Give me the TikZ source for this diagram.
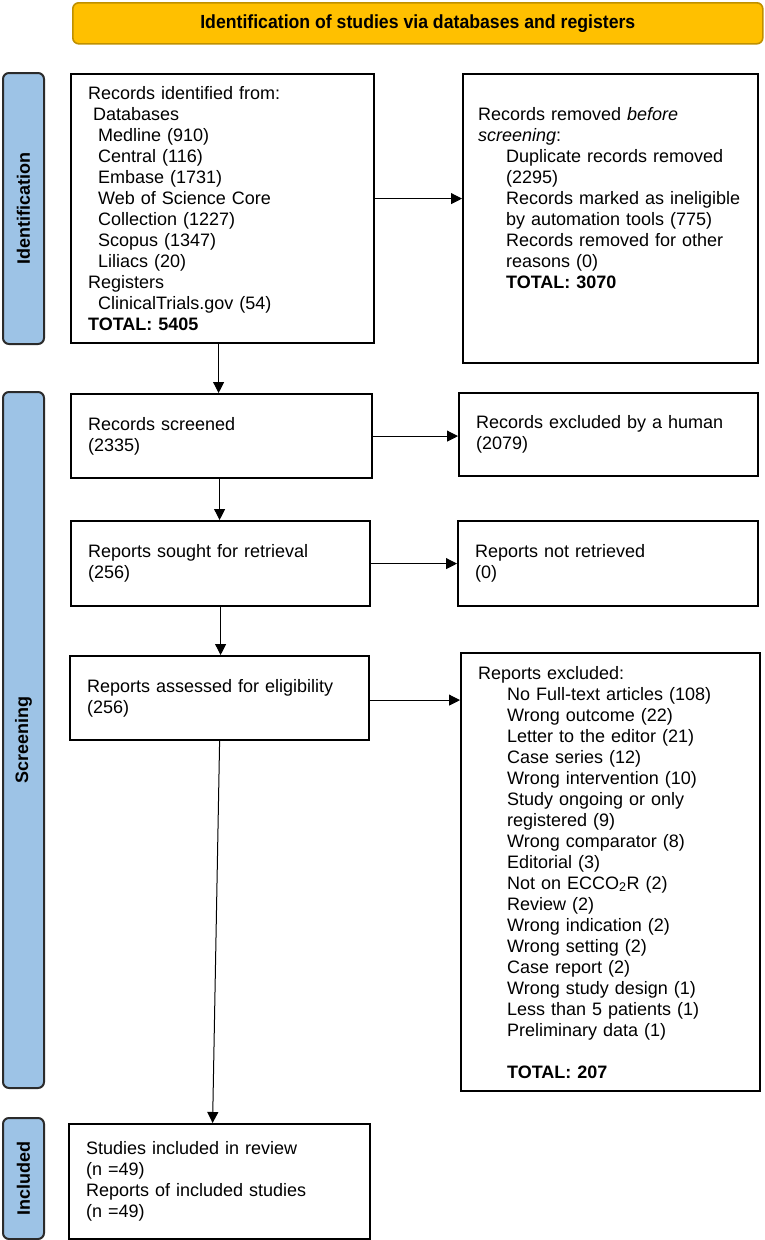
\documentclass[tikz,border=0pt]{standalone}
\usepackage{fontspec}
\usepackage{graphicx}
\setmainfont{Liberation Sans}
\usetikzlibrary{arrows.meta,calc}
\definecolor{hdrfill}{HTML}{FFC000}
\definecolor{hdrdraw}{HTML}{BF9000}
\definecolor{sidefill}{HTML}{9DC3E6}
\definecolor{sidedraw}{HTML}{2B2B2B}
\tikzset{
  txt/.style={font=\fontsize{18}{21}\selectfont},
  flowbox/.style={txt, draw=black, line width=2.2pt, fill=white, rectangle,
    anchor=north west, inner xsep=17pt, inner ysep=0pt, align=left,
    execute at begin node={\hyphenpenalty=10000\exhyphenpenalty=10000}},
  sidebar/.style={draw=sidedraw, line width=2pt, fill=sidefill, rounded corners=6pt,
    anchor=north west, inner sep=0pt, minimum width=41pt},
  sidetext/.style={rotate=90, font=\fontsize{18}{21}\selectfont\bfseries},
  arr/.style={line width=1pt, -{Triangle[length=11pt,width=11pt]}}
}
\newcommand{\ind}[1]{\hspace*{#1pt}}
\begin{document}
\begin{tikzpicture}[x=1pt,y=-1pt]
\useasboundingbox (0,0) rectangle (764,1240);
% header
\node (hdr) [draw=hdrdraw, line width=1.6pt, fill=hdrfill, rounded corners=6pt,
  anchor=north west, minimum width=690pt, minimum height=41pt, inner sep=0pt]
  at (72,2) {\scalebox{0.93}[1]{\fontsize{19}{22}\selectfont\bfseries Identification of studies via databases and registers}};
% side bars
\node (sideid) [sidebar, minimum height=271pt] at (2,72) {};
\node (sideidt) [sidetext] at (sideid.center) {Identification};
\node (sidescr) [sidebar, minimum height=696pt] at (2,391) {};
\node (sidescrt) [sidetext] at (sidescr.center) {Screening};
\node (sideinc) [sidebar, minimum height=121pt] at (2,1117) {};
\node (sideinct) [sidetext] at (sideinc.center) {Included};
% boxes
\node (ident) [flowbox, text width=269pt, minimum height=269pt] at (70,73)
 {Records identified from:\\
  \ind{5}Databases\\
  \ind{10}Medline (910)\\
  \ind{10}Central (116)\\
  \ind{10}Embase (1731)\\
  \ind{10}Web of Science Core\\
  \ind{10}Collection (1227)\\
  \ind{10}Scopus (1347)\\
  \ind{10}Liliacs (20)\\
  Registers\\
  \ind{10}ClinicalTrials.gov (54)\\
  \textbf{TOTAL: 5405}};
\node (removed) [flowbox, inner xsep=15pt, text width=265pt, minimum height=289pt] at (462,73)
 {Records removed \textit{before}\\
  \textit{screening}:\\
  \ind{28}Duplicate records removed\\
  \ind{28}(2295)\\
  \ind{28}Records marked as ineligible\\
  \ind{28}by automation tools (775)\\
  \ind{28}Records removed for other\\
  \ind{28}reasons (0)\\
  \ind{28}\textbf{TOTAL: 3070}\\[21pt]
  \mbox{}};
\node (screened) [flowbox, text width=267pt, minimum height=84pt] at (70,393)
 {Records screened\\(2335)};
\node (human) [flowbox, text width=265pt, minimum height=83pt] at (458,392)
 {Records excluded by a human\\(2079)};
\node (sought) [flowbox, text width=265pt, minimum height=85pt] at (70,520)
 {Reports sought for retrieval\\(256)};
\node (notret) [flowbox, text width=266pt, minimum height=85pt] at (457,520)
 {Reports not retrieved\\(0)};
\node (elig) [flowbox, text width=265pt, minimum height=84pt] at (69,655)
 {Reports assessed for eligibility\\(256)};
\node (excl) [flowbox, text width=265pt, minimum height=438pt] at (460,652)
 {Reports excluded:\\
  \ind{29}No Full-text articles (108)\\
  \ind{29}Wrong outcome (22)\\
  \ind{29}Letter to the editor (21)\\
  \ind{29}Case series (12)\\
  \ind{29}Wrong intervention (10)\\
  \ind{29}Study ongoing or only\\
  \ind{29}registered (9)\\
  \ind{29}Wrong comparator (8)\\
  \ind{29}Editorial (3)\\
  \ind{29}Not on ECCO\textsubscript{2}R (2)\\
  \ind{29}Review (2)\\
  \ind{29}Wrong indication (2)\\
  \ind{29}Wrong setting (2)\\
  \ind{29}Case report (2)\\
  \ind{29}Wrong study design (1)\\
  \ind{29}Less than 5 patients (1)\\
  \ind{29}Preliminary data (1)\\[21pt]
  \ind{29}\textbf{TOTAL: 207}};
\node (incl) [flowbox, text width=267pt, minimum height=115pt] at (68,1123)
 {Studies included in review\\(n =49)\\Reports of included studies\\(n =49)};
% connectors
\draw[arr] ($(ident.south)+(-4,0)$) -- ($(ident.south |- screened.north)+(-4,0)$);
\draw[arr] ($(ident.east)+(0,-10)$) -- ($(ident.east -| removed.west)+(0,-10)$);
\draw[arr] (screened.east) -- (screened.east -| human.west);
\draw[arr] ($(screened.south)+(-2,0)$) -- ($(screened.south |- sought.north)+(-2,0)$);
\draw[arr] (sought.east) -- (sought.east -| notret.west);
\draw[arr] (sought.south) -- (sought.south |- elig.north);
\draw[arr] ($(elig.east)+(0,2)$) -- ($(elig.east -| excl.west)+(0,2)$);
\draw[arr] (elig.south) -- ($(incl.north)+(-7,0)$);
\end{tikzpicture}
\end{document}
